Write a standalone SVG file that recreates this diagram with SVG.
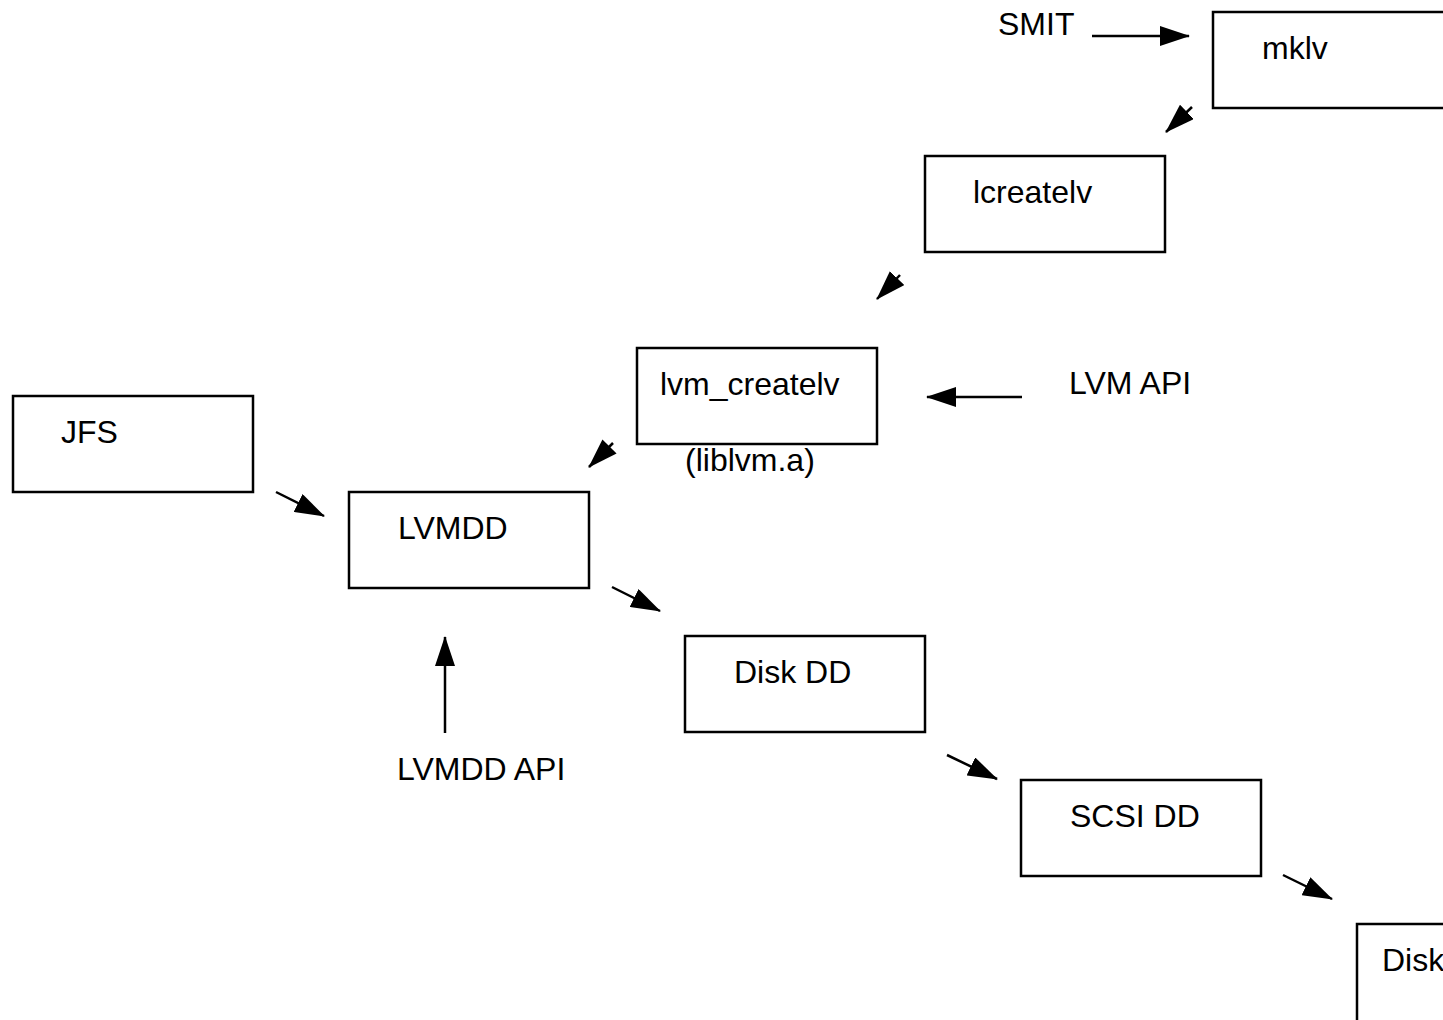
<svg xmlns="http://www.w3.org/2000/svg" width="1443" height="1020" viewBox="0 0 1443 1020">
<style>
.box{fill:none;stroke:#000;stroke-width:2.5}
.lbl{font-family:"Liberation Sans",Arial,sans-serif;font-size:32px;fill:#000}
.con{stroke:#000;stroke-width:2.5;fill:none;marker-end:url(#ah)}
</style>
<defs>
<marker id="ah" viewBox="0 0 30 20" markerWidth="30" markerHeight="20" refX="29" refY="10" orient="auto" markerUnits="userSpaceOnUse">
<path d="M0,0 L30,10 L0,20 z" fill="#000"/>
</marker>
</defs>
<rect width="1443" height="1020" fill="#fff"/>
<g id="mklv"><rect class="box" x="1213" y="12" width="240" height="96"/><text class="lbl" x="1262" y="59">mklv</text></g>
<g id="lcreatelv"><rect class="box" x="925" y="156" width="240" height="96"/><text class="lbl" x="973" y="203">lcreatelv</text></g>
<g id="lvm_createlv"><rect class="box" x="637" y="348" width="240" height="96"/><text class="lbl" x="660" y="395">lvm_createlv</text><text class="lbl" x="685" y="471">(liblvm.a)</text></g>
<g id="JFS"><rect class="box" x="13" y="396" width="240" height="96"/><text class="lbl" x="61" y="443">JFS</text></g>
<g id="LVMDD"><rect class="box" x="349" y="492" width="240" height="96"/><text class="lbl" x="398" y="539">LVMDD</text></g>
<g id="DiskDD"><rect class="box" x="685" y="636" width="240" height="96"/><text class="lbl" x="734" y="683">Disk DD</text></g>
<g id="SCSIDD"><rect class="box" x="1021" y="780" width="240" height="96"/><text class="lbl" x="1070" y="827">SCSI DD</text></g>
<g id="Disk"><rect class="box" x="1357" y="924" width="240" height="120"/><text class="lbl" x="1382" y="971">Disk</text></g>
<g id="SMIT"><text class="lbl" x="998" y="35">SMIT</text></g>
<g id="LVMAPI"><text class="lbl" x="1069" y="394">LVM API</text></g>
<g id="LVMDDAPI"><text class="lbl" x="397" y="780">LVMDD API</text></g>
<g id="connectors">
<line class="con" x1="1092" y1="36" x2="1189" y2="36"/>
<line class="con" x1="1192" y1="107" x2="1166" y2="132"/>
<line class="con" x1="900" y1="275" x2="877" y2="299"/>
<line class="con" x1="1022" y1="397" x2="927" y2="397"/>
<line class="con" x1="613" y1="443" x2="589" y2="467"/>
<line class="con" x1="276" y1="492" x2="324" y2="516"/>
<line class="con" x1="612" y1="587" x2="660" y2="611"/>
<line class="con" x1="947" y1="755" x2="997" y2="779"/>
<line class="con" x1="1283" y1="875" x2="1332" y2="899"/>
<line class="con" x1="445" y1="733" x2="445" y2="637"/>
</g>
</svg>
